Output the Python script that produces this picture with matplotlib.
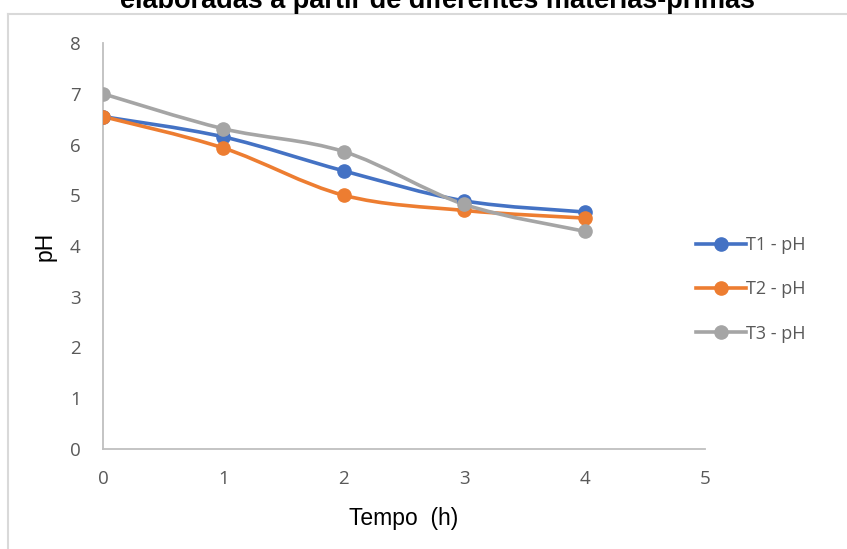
import matplotlib
matplotlib.use("Agg")
import matplotlib.pyplot as plt
import numpy as np
from matplotlib.path import Path
from matplotlib.patches import PathPatch
from matplotlib.lines import Line2D

tempo = [0, 1, 2, 3, 4]
t1_ph = [6.55, 6.15, 5.48, 4.89, 4.67]
t2_ph = [6.55, 5.93, 5.00, 4.70, 4.55]
t3_ph = [7.00, 6.31, 5.86, 4.82, 4.29]
labels = ["T1 - pH", "T2 - pH", "T3 - pH"]
colors = ["#4472c4", "#ed7d31", "#a5a5a5"]


def smooth_path(x, y):
    """Excel-style smoothed line as cubic Bezier segments."""
    p = np.column_stack([x, y]).astype(float)
    ext = np.vstack([p[0], p, p[-1]])
    verts = [p[0]]
    codes = [Path.MOVETO]
    for i in range(len(p) - 1):
        c1 = ext[i + 1] + (ext[i + 2] - ext[i]) / 6
        c2 = ext[i + 2] - (ext[i + 3] - ext[i + 1]) / 6
        verts += [c1, c2, p[i + 1]]
        codes += [Path.CURVE4] * 3
    return Path(verts, codes)


plt.rcParams["font.family"] = ["Open Sans", "DejaVu Sans"]

fig = plt.figure(figsize=(8.47, 5.49), dpi=100)
ax = fig.add_axes([103 / 847, 1 - 449 / 549, 602 / 847, 406 / 549])

handles = []
for ys, lab, c in zip([t1_ph, t2_ph, t3_ph], labels, colors):
    ax.add_patch(PathPatch(smooth_path(tempo, ys), facecolor="none",
                           edgecolor=c, lw=2.6, capstyle="round", zorder=2))
    ax.plot(tempo, ys, "o", color=c, ms=9.5, zorder=3)
    handles.append(Line2D([], [], color=c, lw=2.6, marker="o", ms=9.5))

ax.set_xlim(0, 5)
ax.set_ylim(0, 8)
ax.set_xticks(range(0, 6))
ax.set_yticks(range(0, 9))
for s in ["top", "right"]:
    ax.spines[s].set_visible(False)
for s in ["left", "bottom"]:
    ax.spines[s].set_color("#bfbfbf")
    ax.spines[s].set_linewidth(1.3)
ax.tick_params(length=0, colors="#595959", labelsize=13.5)
ax.tick_params(axis="y", pad=16)
ax.tick_params(axis="x", pad=15)

ax.set_xlabel("Tempo  (h)", fontsize=16.5, family="Liberation Sans",
              labelpad=14)
ax.set_ylabel("pH", fontsize=16.5, family="Liberation Sans", labelpad=10)

leg = ax.legend(handles, labels, loc="center left",
                bbox_to_anchor=(0.958, 0.393), frameon=False,
                fontsize=13, labelcolor="#595959", handlelength=2.75,
                handletextpad=0.0, labelspacing=1.45)

fig.text(437 / 847, 1 - 8 / 549, "elaboradas a partir de diferentes matérias-primas",
         ha="center", va="baseline", fontsize=19.5, fontweight="bold",
         family="Liberation Sans")

# chart frame (top and left edges visible)
fig.add_artist(Line2D([8 / 847, 1], [1 - 14 / 549] * 2, color="#d9d9d9",
                      lw=1.5, transform=fig.transFigure))
fig.add_artist(Line2D([8 / 847] * 2, [0, 1 - 14 / 549], color="#d9d9d9",
                      lw=1.5, transform=fig.transFigure))

fig.savefig("out.png", dpi=100)
